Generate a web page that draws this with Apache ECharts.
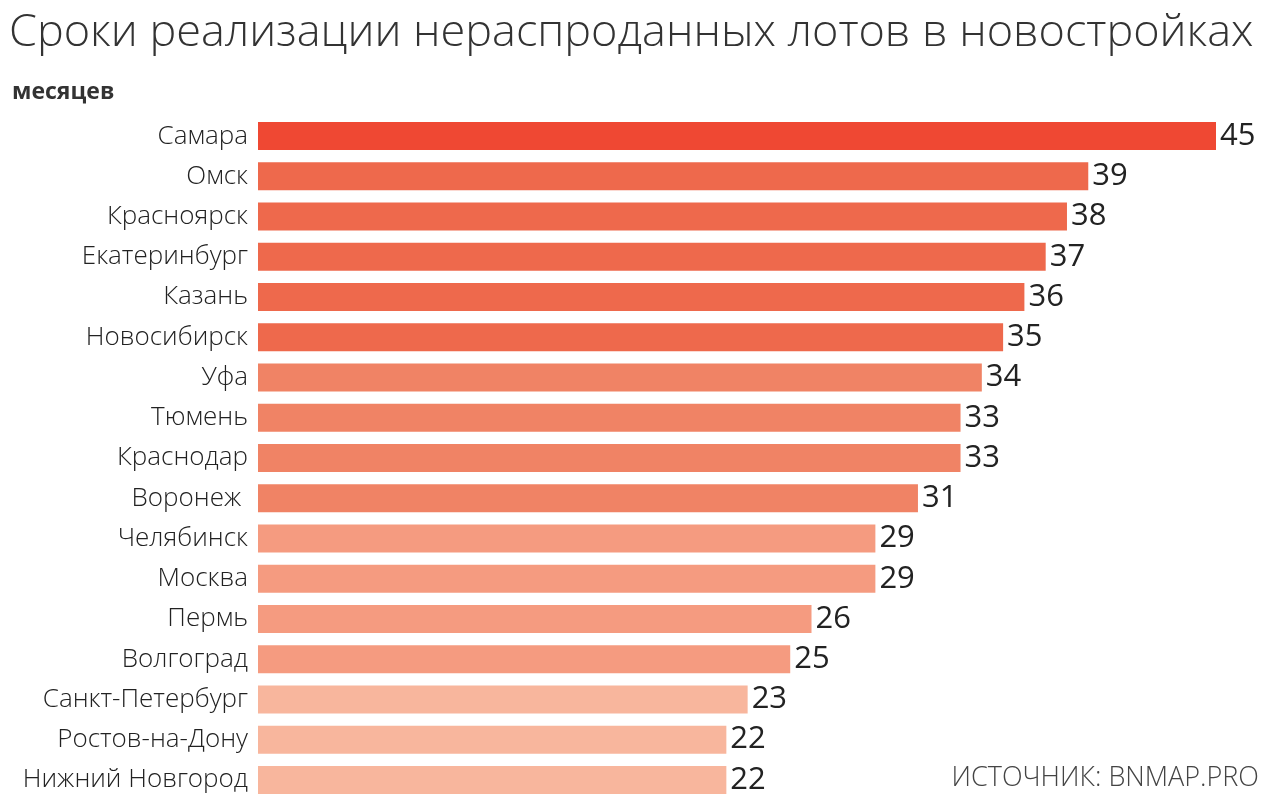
<!DOCTYPE html>
<html>
<head>
<meta charset="utf-8">
<script src="https://cdn.jsdelivr.net/npm/echarts@6/dist/echarts.min.js"></script>
<style>
html,body{margin:0;padding:0;background:#fff;}
#chart{width:1280px;height:806px;}
</style>
</head>
<body>
<div id="chart"></div>
<script>
const cities = ['Самара','Омск','Красноярск','Екатеринбург','Казань','Новосибирск','Уфа','Тюмень','Краснодар','Воронеж ','Челябинск','Москва','Пермь','Волгоград','Санкт-Петербург','Ростов-на-Дону','Нижний Новгород'];
const months = [45,39,38,37,36,35,34,33,33,31,29,29,26,25,23,22,22];
const titleText = 'Сроки реализации нераспроданных лотов в новостройках';
const unitText = 'месяцев';
const sourceText = 'ИСТОЧНИК: BNMAP.PRO';

function barColor(v){
  if (v >= 40) return '#EF4833';
  if (v >= 35) return '#EE694C';
  if (v >= 30) return '#F08365';
  if (v >= 24) return '#F59B80';
  return '#F8B69D';
}

const chart = echarts.init(document.getElementById('chart'), null, {renderer:'canvas'});
chart.setOption({
  backgroundColor:'#fff',
  animation:false,
  title:[
    {text:titleText, left:4, top:6, textStyle:{fontFamily:'"Open Sans", sans-serif', fontWeight:300, fontSize:45, color:'#333'}},
    {text:unitText, left:7, top:76, textStyle:{fontFamily:'"Open Sans", sans-serif', fontWeight:700, fontSize:23, color:'#333'}},
    {text:sourceText, right:16, top:760, textStyle:{fontFamily:'"Open Sans", sans-serif', fontWeight:300, fontSize:27, color:'#444'}}
  ],
  grid:{left:258, right:64, top:116, bottom:6, containLabel:false},
  xAxis:{type:'value', min:0, max:45, show:false},
  yAxis:{type:'category', data:cities, inverse:true,
    axisLine:{show:false}, axisTick:{show:false},
    axisLabel:{margin:10, fontFamily:'"Open Sans", sans-serif', fontWeight:300, fontSize:26, color:'#222'}},
  series:[{
    type:'bar', data:months, barWidth:28,
    itemStyle:{color:p=>barColor(p.value)},
    label:{show:true, position:'right', distance:4, fontFamily:'"Open Sans", sans-serif', fontWeight:500, fontSize:31, color:'#222'}
  }]
});
</script>
</body>
</html>
